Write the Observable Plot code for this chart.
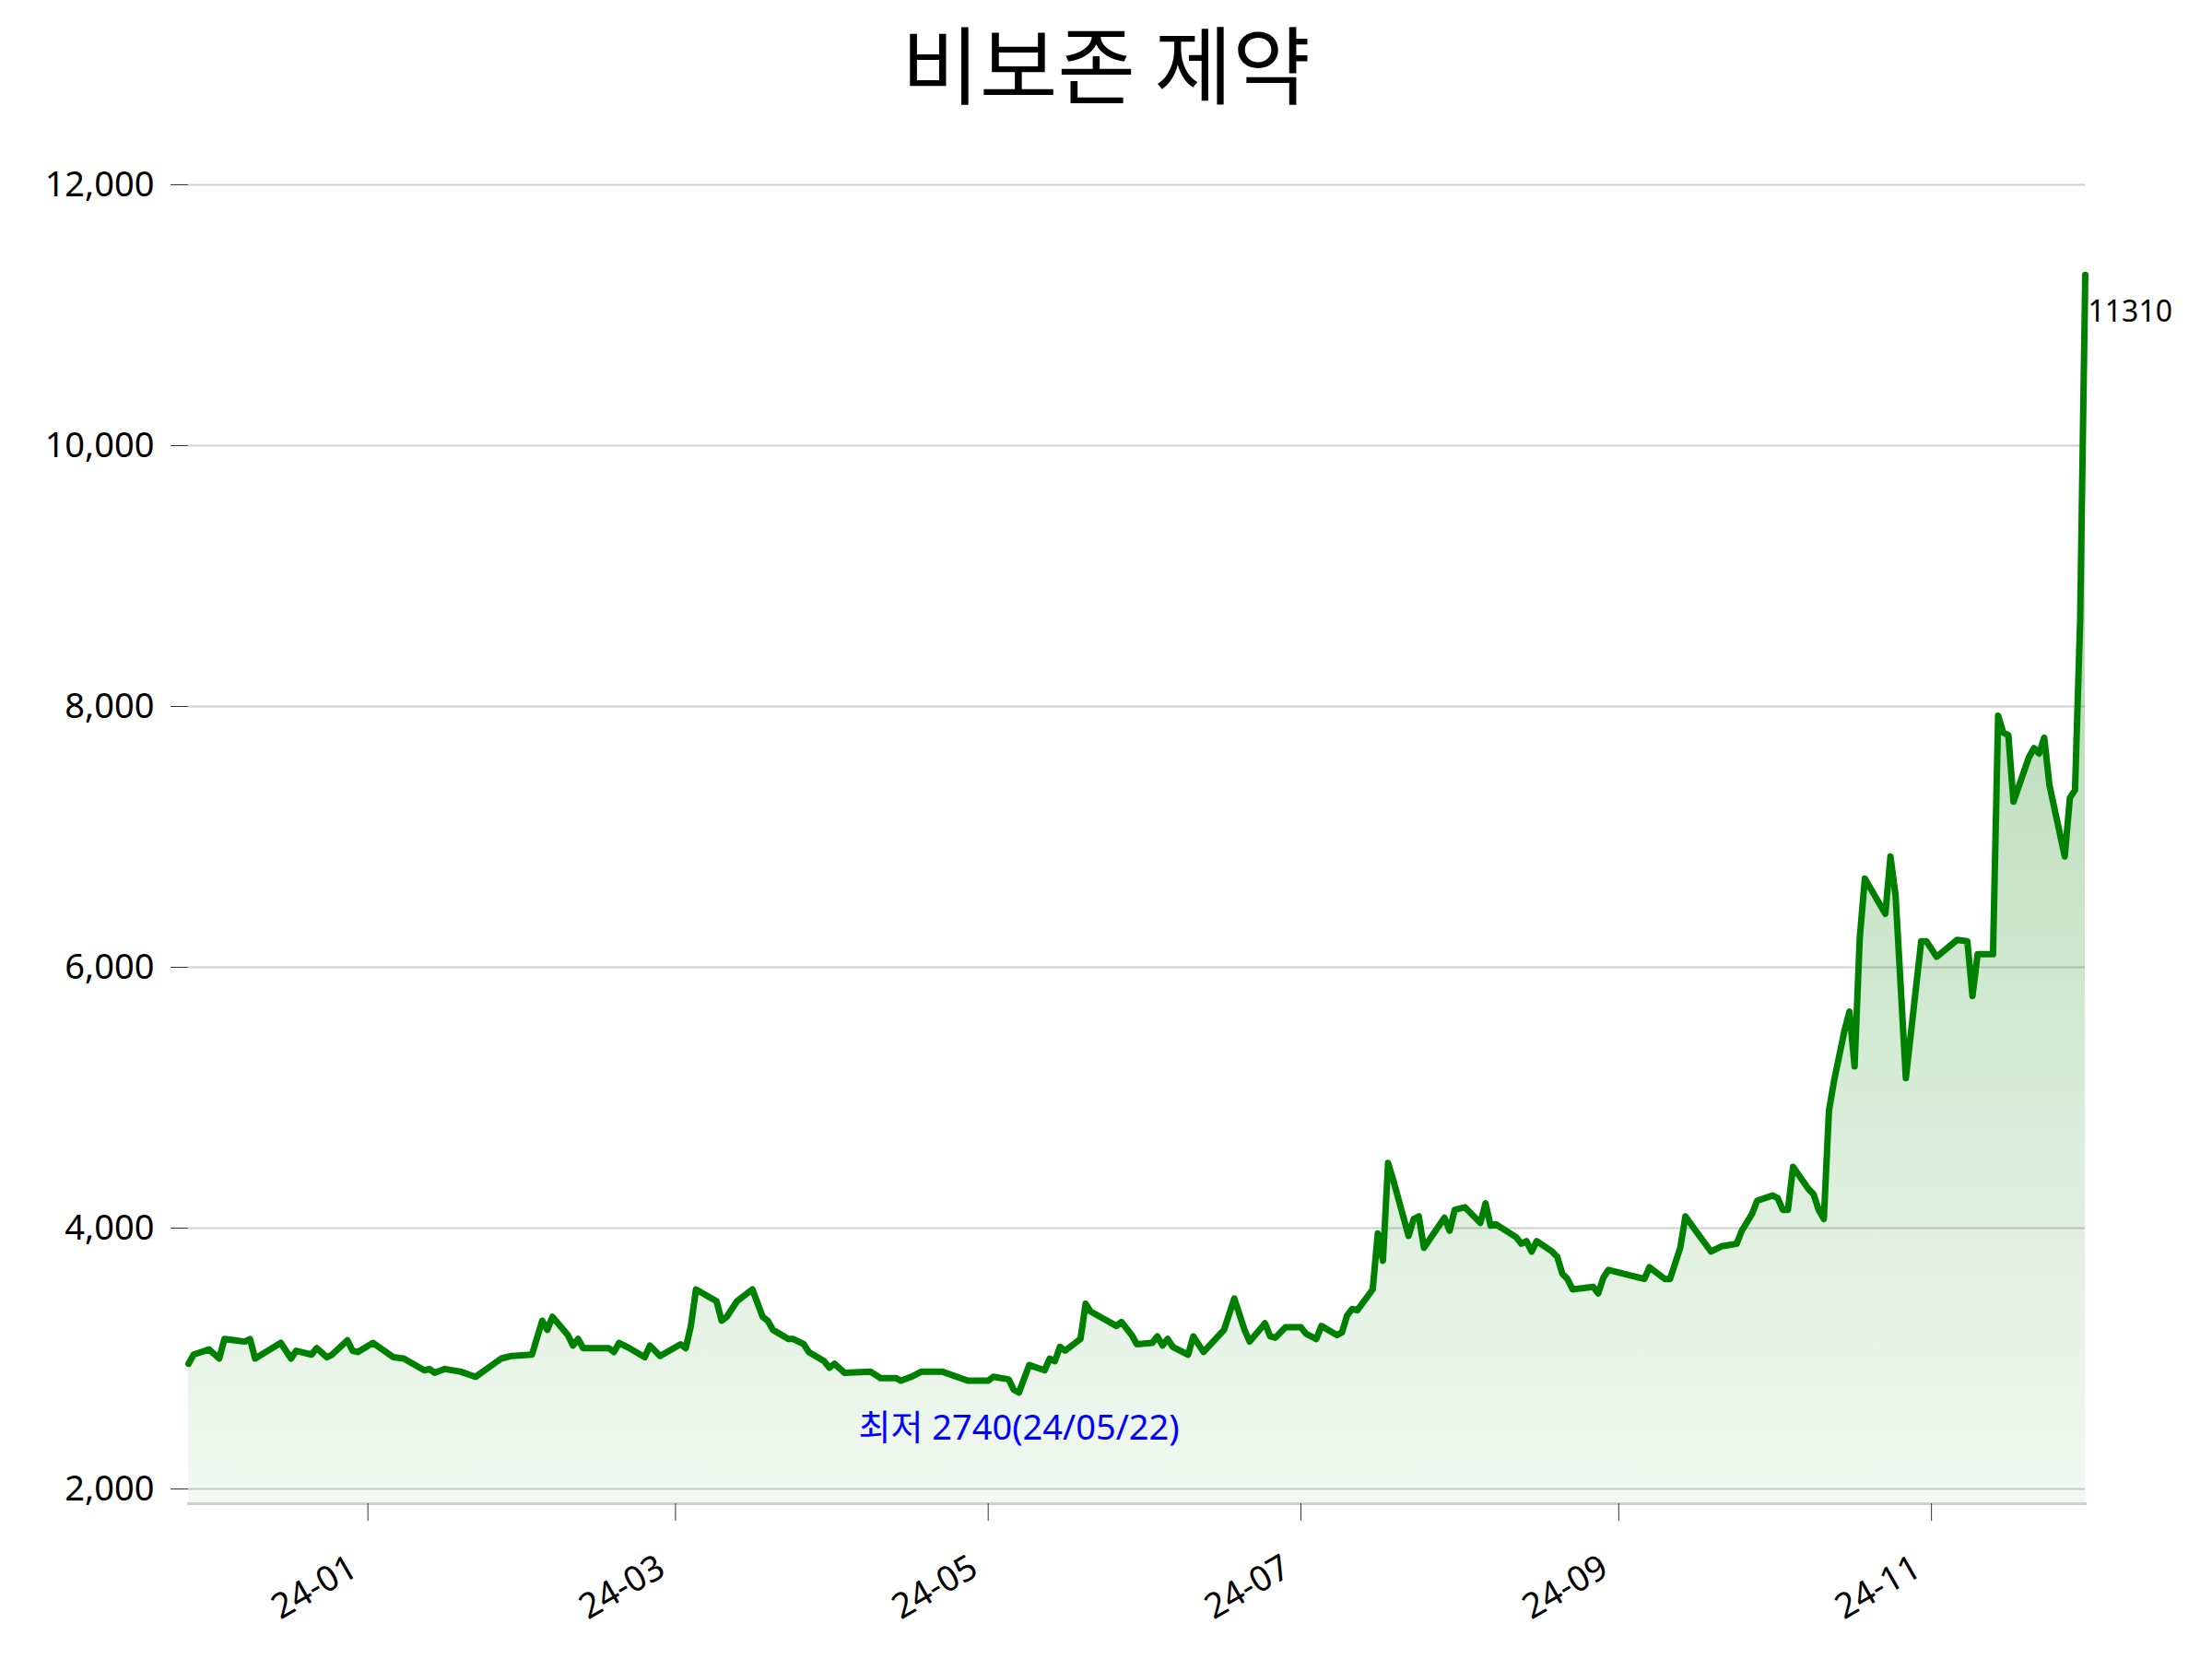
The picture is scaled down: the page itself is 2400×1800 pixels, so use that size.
<!DOCTYPE html>
<html><head><meta charset="utf-8">
<script src="https://cdn.jsdelivr.net/npm/d3@7"></script>
<script src="https://cdn.jsdelivr.net/npm/@observablehq/plot@0.6"></script>
<style>
html,body{margin:0;padding:0;background:#fff;}
#title{width:2400px;height:132px;line-height:132px;text-align:center;font-family:"Noto Sans CJK KR","Noto Sans",sans-serif;font-size:92px;color:#000;}
#chart svg{display:block;}
</style></head><body>
<div id="title"></div>
<div id="chart"></div>
<script>
const title = "비보존 제약";
const dates = [
"2023-11-27","2023-11-28","2023-12-01","2023-12-03","2023-12-04","2023-12-08","2023-12-09","2023-12-10","2023-12-15","2023-12-17",
"2023-12-18","2023-12-21","2023-12-22","2023-12-24","2023-12-25","2023-12-28","2023-12-29","2023-12-30","2024-01-02","2024-01-06",
"2024-01-08","2024-01-12","2024-01-13","2024-01-14","2024-01-16","2024-01-19","2024-01-22","2024-01-27","2024-01-29","2024-02-02",
"2024-02-04","2024-02-05","2024-02-06","2024-02-09","2024-02-10","2024-02-11","2024-02-12","2024-02-17","2024-02-18","2024-02-19",
"2024-02-21","2024-02-24","2024-02-25","2024-02-27","2024-03-02","2024-03-03","2024-03-04","2024-03-05","2024-03-09","2024-03-10",
"2024-03-11","2024-03-13","2024-03-16","2024-03-18","2024-03-19","2024-03-20","2024-03-23","2024-03-24","2024-03-26","2024-03-27",
"2024-03-30","2024-03-31","2024-04-01","2024-04-03","2024-04-08","2024-04-10","2024-04-13","2024-04-14","2024-04-16","2024-04-18",
"2024-04-22","2024-04-27","2024-05-01","2024-05-02","2024-05-05","2024-05-06","2024-05-07","2024-05-09","2024-05-12","2024-05-13",
"2024-05-14","2024-05-15","2024-05-16","2024-05-19","2024-05-20","2024-05-21","2024-05-26","2024-05-27","2024-05-29","2024-05-30",
"2024-06-02","2024-06-03","2024-06-04","2024-06-05","2024-06-06","2024-06-09","2024-06-10","2024-06-12","2024-06-16","2024-06-18",
"2024-06-20","2024-06-21","2024-06-24","2024-06-25","2024-06-26","2024-06-28","2024-07-01","2024-07-02","2024-07-04","2024-07-05",
"2024-07-08","2024-07-09","2024-07-10","2024-07-11","2024-07-12","2024-07-15","2024-07-16","2024-07-17","2024-07-18","2024-07-19",
"2024-07-22","2024-07-23","2024-07-24","2024-07-25","2024-07-29","2024-07-30","2024-07-31","2024-08-02","2024-08-05","2024-08-06",
"2024-08-07","2024-08-08","2024-08-12","2024-08-13","2024-08-14","2024-08-15","2024-08-16","2024-08-19","2024-08-20","2024-08-21",
"2024-08-22","2024-08-23","2024-08-27","2024-08-28","2024-08-29","2024-08-30","2024-09-06","2024-09-07","2024-09-10","2024-09-11",
"2024-09-13","2024-09-14","2024-09-16","2024-09-19","2024-09-21","2024-09-24","2024-09-25","2024-09-27","2024-09-28","2024-10-01",
"2024-10-02","2024-10-03","2024-10-04","2024-10-05","2024-10-08","2024-10-09","2024-10-10","2024-10-11","2024-10-12","2024-10-13",
"2024-10-15","2024-10-16","2024-10-17","2024-10-18","2024-10-19","2024-10-23","2024-10-24","2024-10-25","2024-10-27","2024-10-30",
"2024-10-31","2024-11-02","2024-11-06","2024-11-08","2024-11-09","2024-11-10","2024-11-13","2024-11-14","2024-11-15","2024-11-16",
"2024-11-17","2024-11-20","2024-11-21","2024-11-22","2024-11-23","2024-11-24","2024-11-27","2024-11-28","2024-11-29","2024-11-30",
"2024-12-01"
];
const prices = [
2960,3030,3070,3000,3150,3130,3150,3000,3120,3000,
3060,3030,3080,3010,3030,3140,3060,3050,3120,3010,
3000,2910,2920,2890,2920,2900,2860,3000,3020,3030,
3290,3220,3320,3180,3100,3150,3080,3080,3050,3120,
3080,3010,3100,3020,3110,3080,3250,3530,3440,3290,
3320,3440,3530,3320,3290,3220,3150,3150,3110,3050,
2980,2930,2960,2890,2900,2850,2850,2830,2860,2900,
2900,2830,2830,2860,2840,2760,2740,2950,2910,3000,
2980,3090,3060,3150,3420,3360,3250,3280,3180,3110,
3120,3170,3100,3150,3090,3030,3170,3050,3220,3460,
3220,3130,3270,3170,3160,3240,3240,3190,3150,3250,
3180,3200,3330,3380,3370,3530,3960,3750,4500,4370,
3940,4070,4090,3850,4080,3980,4140,4160,4040,4190,
4020,4030,3930,3880,3900,3820,3900,3820,3780,3650,
3610,3530,3550,3500,3620,3680,3610,3700,3610,3610,
3850,4090,3980,3820,3860,3880,3980,4110,4210,4250,
4230,4140,4140,4470,4300,4260,4140,4070,4900,5130,
5510,5660,5240,6220,6680,6410,6850,6550,5150,6200,
6200,6080,6210,6200,5780,6100,6100,7930,7800,7780,
7270,7610,7680,7640,7760,7400,6850,7300,7360,8660,
11310
];
const xTickDates = ["2024-01-01","2024-03-01","2024-05-01","2024-07-01","2024-09-01","2024-11-01"];
const yTicks = [2000, 4000, 6000, 8000, 10000, 12000];
const yDomain = [1887, 12000];
const minLabelPrefix = "최저";
const minLabelDate = "24/05/22";

document.getElementById("title").textContent = title;

const rows = dates.map((d, i) => ({date: new Date(d), price: prices[i]}));
const minRow = d3.least(rows, d => d.price);
const lastRow = rows[rows.length - 1];
const xTicks = xTickDates.map(d => new Date(d));

const gradientDefs = () => {
  const defs = d3.create("svg:defs");
  const g = defs.append("linearGradient").attr("id", "areaGrad")
    .attr("x1", 0).attr("x2", 0).attr("y1", 0).attr("y2", 1);
  g.append("stop").attr("offset", "0%").attr("stop-color", "#008000").attr("stop-opacity", 0.37);
  g.append("stop").attr("offset", "100%").attr("stop-color", "#008000").attr("stop-opacity", 0.05);
  return defs.node();
};

const chart = Plot.plot({
  width: 2400,
  height: 1668,
  marginTop: 68,
  marginBottom: 169,
  marginLeft: 204,
  marginRight: 138,
  style: {fontFamily: '"Noto Sans","Noto Sans CJK KR",sans-serif', background: "white", color: "black", overflow: "visible"},
  x: {type: "utc", domain: [rows[0].date, lastRow.date]},
  y: {domain: yDomain},
  marks: [
    gradientDefs,
    Plot.gridY(yTicks, {stroke: "#cfcfcf", strokeOpacity: 1, strokeWidth: 2}),
    Plot.areaY(rows, {x: "date", y1: yDomain[0], y2: "price", fill: "url(#areaGrad)"}),
    Plot.lineY(rows, {x: "date", y: "price", stroke: "#008000", strokeWidth: 7, strokeLinejoin: "round"}),
    Plot.frame({anchor: "bottom", stroke: "#cfcfcf", strokeWidth: 3}),
    Plot.axisY(yTicks, {tickFormat: d3.format(","), tickSize: 19, tickPadding: 18, fontSize: 38, stroke: "#333", label: null}),
    Plot.axisX(xTicks, {tickFormat: () => "", tickSize: 19, stroke: "#333", label: null}),
    Plot.axisX(xTicks, {tickFormat: d3.utcFormat("%y-%m"), tickRotate: -30, tickSize: 0, tickPadding: 66, dx: -15, fontSize: 38, label: null}),
    Plot.text([minRow], {x: "date", y: "price", text: d => `${minLabelPrefix} ${d.price}(${minLabelDate})`, dy: 39, fill: "blue", fontSize: 38, textAnchor: "middle"}),
    Plot.text([lastRow], {x: "date", y: "price", text: d => String(d.price), dx: 3, dy: 41, textAnchor: "start", fill: "black", fontSize: 32})
  ]
});
document.getElementById("chart").appendChild(chart);
</script>
</body></html>
